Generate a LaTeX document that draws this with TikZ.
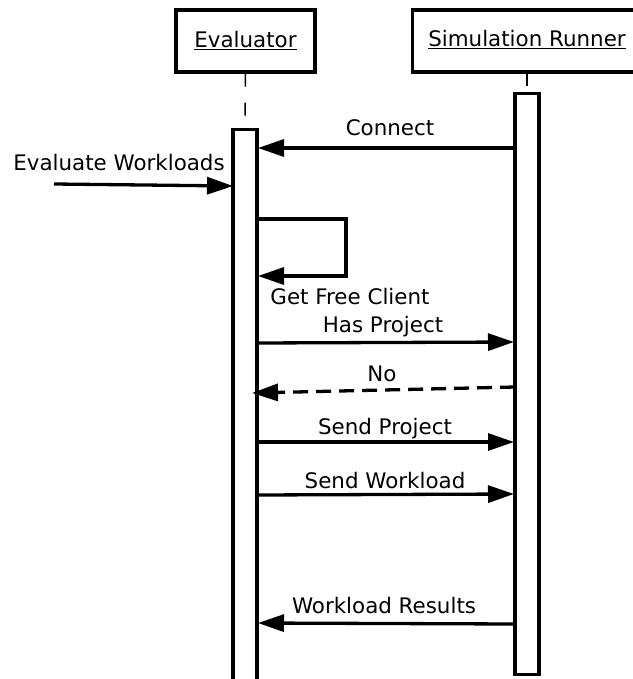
\documentclass[tikz,border=0pt]{standalone}
\usepackage{fontspec}
\setmainfont{DejaVu Sans}
\usetikzlibrary{arrows.meta}
\begin{document}
\begin{tikzpicture}[x=1pt,y=-1pt,
  lw/.style={line width=3.3pt},
  actor/.style={draw,lw,rectangle,inner sep=0pt,font=\fontsize{21.4}{24}\selectfont},
  actbar/.style={draw,lw,fill=white,rectangle,inner sep=0pt,minimum width=24pt},
  msg/.style={lw,-{Triangle[length=26pt,width=17pt]}},
  reply/.style={msg,dash pattern=on 15pt off 8pt},
  lifeline/.style={line width=1.5pt,dash pattern=on 13pt off 16pt},
  lbl/.style={font=\fontsize{21.4}{24}\selectfont,inner sep=0pt}]
\useasboundingbox (0,0) rectangle (632,679);

% participants
\node[actor,minimum width=139pt,minimum height=62pt] (ev) at (245.5,41) {\underline{Evaluator}};
\node[actor,minimum width=224pt,minimum height=62pt,anchor=west] (sr) at (411,41) {};
\node[lbl] (srname) at (527,40) {\underline{Simulation Runner}};

% lifelines
\coordinate (evlife) at (245,128);
\coordinate (srlife) at (527,86);
\draw[lifeline] (ev.south) -- (evlife);
\draw[lifeline] (sr.south -| srname) -- (srlife);

% activation bars
\node[actbar,minimum height=560pt,anchor=north] (evbar) at (245,128) {};
\node[actbar,minimum height=581pt,anchor=north] (srbar) at (527,92) {};

% message end points
\coordinate (c1a) at (515,148);   \coordinate (c1b) at (258,148);
\coordinate (ewa) at (54,184);    \coordinate (ewb) at (233,186);
\coordinate (lpa) at (257,219);   \coordinate (lpb) at (346,219);
\coordinate (lpc) at (346,276);   \coordinate (lpd) at (258,276);
\coordinate (hpa) at (257,343);   \coordinate (hpb) at (514,342);
\coordinate (noa) at (515,387);   \coordinate (nob) at (252,393);
\coordinate (spa) at (257,442);   \coordinate (spb) at (514,442);
\coordinate (swa) at (257,495);   \coordinate (swb) at (514,494);
\coordinate (wra) at (515,624);   \coordinate (wrb) at (258,623);

% messages
\draw[msg] (c1a) -- (c1b);
\node[lbl] (l1) at (390,128) {Connect};
\draw[msg] (ewa) -- (ewb);
\node[lbl] (l2) at (119,163) {Evaluate Workloads};
\draw[msg] (lpa) -- (lpb) -- (lpc) -- (lpd);
\node[lbl] (l3) at (350,297) {Get Free Client};
\draw[msg] (hpa) -- (hpb);
\node[lbl] (l4) at (383,327) {Has Project};
\draw[reply] (noa) -- (nob);
\node[lbl] (l5) at (382,374) {No};
\draw[msg] (spa) -- (spb);
\node[lbl] (l6) at (385,429) {Send Project};
\draw[msg] (swa) -- (swb);
\node[lbl] (l7) at (385,481) {Send Workload};
\draw[msg] (wra) -- (wrb);
\node[lbl] (l8) at (384,606) {Workload Results};
\end{tikzpicture}
\end{document}
